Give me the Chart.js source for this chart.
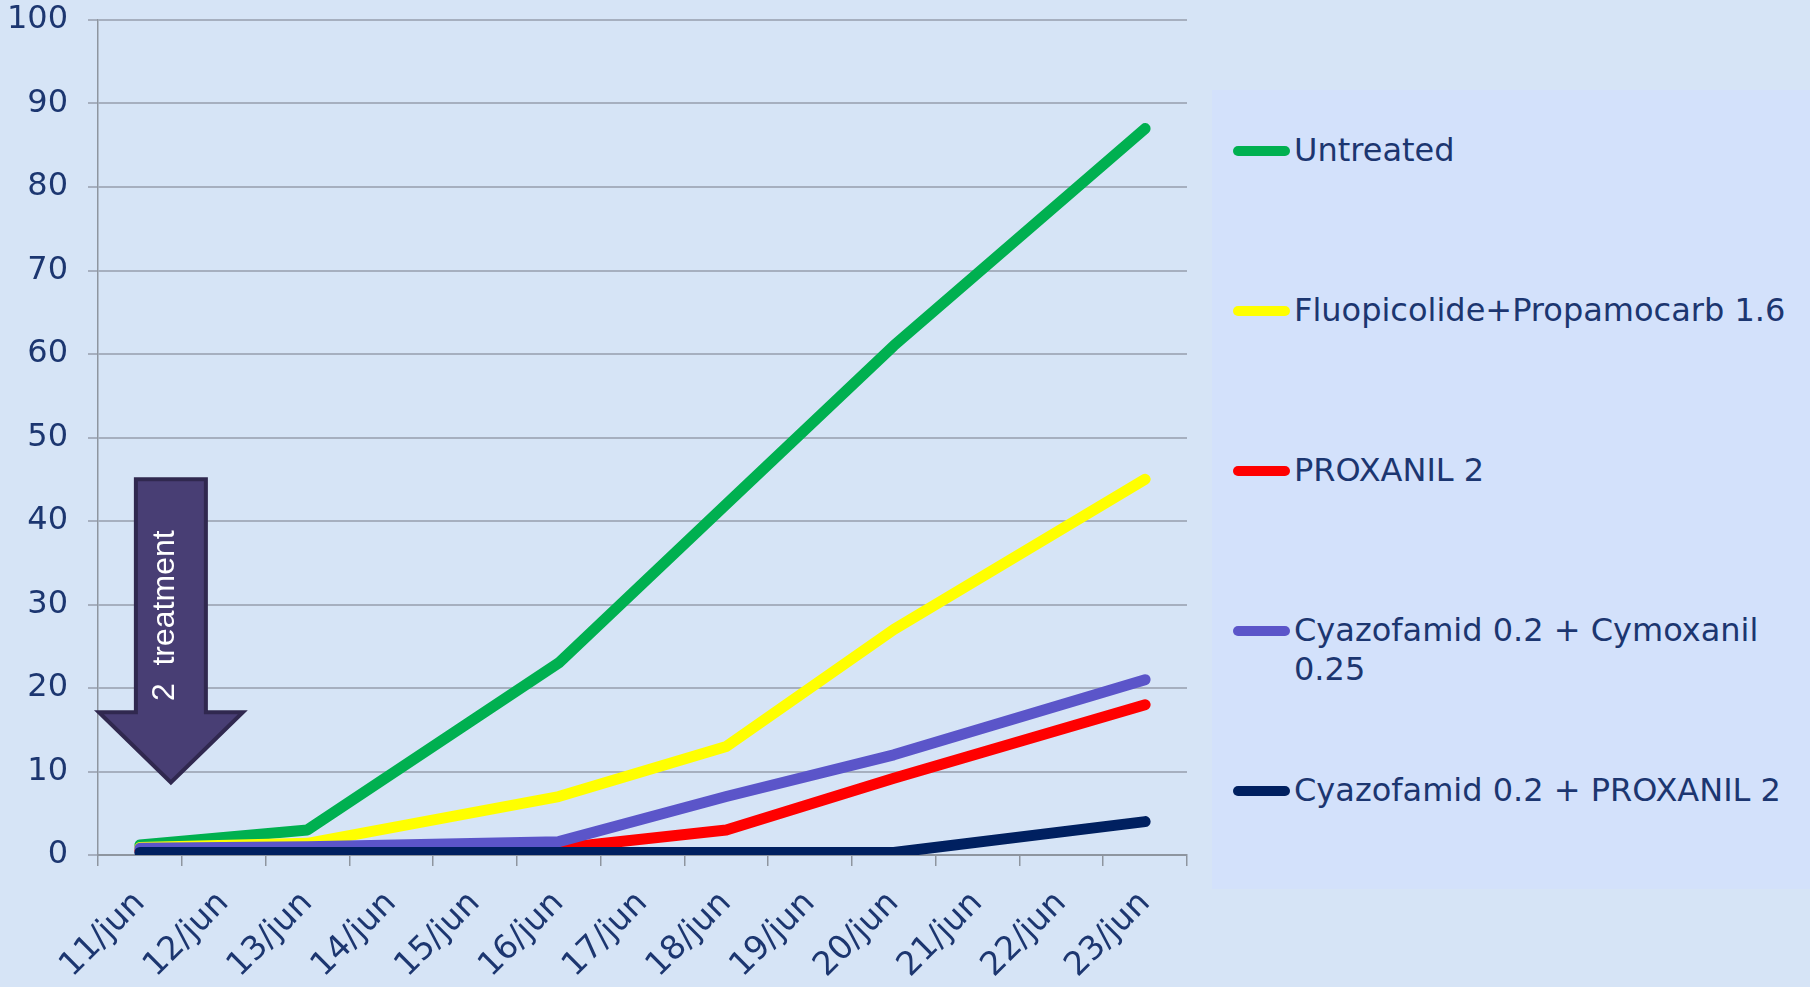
<!DOCTYPE html>
<html>
<head>
<meta charset="utf-8">
<script src="https://cdn.jsdelivr.net/npm/chart.js@4.4.1/dist/chart.umd.min.js"></script>
<style>
    body { margin: 0; background: #d6e4f6; }
    #wrap { position: relative; width: 1810px; height: 987px; }
    #legend {
        position: absolute; left: 1212px; top: 90px; width: 598px; height: 799px;
        background: #d3e1fb; font-family: 'DejaVu Sans', Verdana, sans-serif;
        font-size: 32px; color: #1c3670;
    }
    .item { position: absolute; left: 21px; display: flex; align-items: flex-start; }
    .swatch { width: 57px; height: 10px; border-radius: 5px; margin-top: 15px; margin-right: 4px; flex: none; }
    .label { width: 520px; line-height: 39px; }
</style>
</head>
<body>
<div id="wrap">
    <canvas id="mainChart"></canvas>
    <div id="legend"></div>
</div>
<script>
const days = ['11/jun', '12/jun', '13/jun', '14/jun', '15/jun', '16/jun', '17/jun',
    '18/jun', '19/jun', '20/jun', '21/jun', '22/jun', '23/jun'];

const untreated   = [1.2, null, 3,   null, null, 23,  null, 42,  null, 61,  null, null, 87];
const fluoProp    = [0.9, null, 1.4, null, null, 7,   null, 13,  null, 27,  null, null, 45];
const proxanil    = [0.5, null, 0.5, null, null, 0.8, null, 3,   null, 9.2, null, null, 18];
const cyazoCymox  = [0.8, null, 1,   null, null, 1.6, null, 7,   null, 12,  null, null, 21];
const cyazoProx   = [0.3, null, 0.3, null, null, 0.3, null, 0.3, null, 0.3, null, null, 4];

const seriesNames = ['Untreated', 'Fluopicolide+Propamocarb 1.6', 'PROXANIL 2',
    'Cyazofamid 0.2 + Cymoxanil 0.25', 'Cyazofamid 0.2 + PROXANIL 2'];
const seriesData = [untreated, fluoProp, proxanil, cyazoCymox, cyazoProx];
const seriesColors = ['#00b050', '#ffff00', '#ff0000', '#5b55c9', '#002060'];

const yTicks = [0, 10, 20, 30, 40, 50, 60, 70, 80, 90, 100];

// treatment arrow, placed in data units
const arrowIndex = 0.37;
const arrowTip = 8.7, arrowBase = 17.1, arrowTop = 45;

Chart.defaults.font.family = "'DejaVu Sans', Verdana, sans-serif";

const arrowPlugin = {
    id: 'treatmentArrow',
    afterDatasetsDraw(chart) {
        const { ctx, scales: { x, y } } = chart;
        const step = x.getPixelForValue(1) - x.getPixelForValue(0);
        const cx = x.getPixelForValue(0) + arrowIndex * step;
        const tipY = y.getPixelForValue(arrowTip);
        const baseY = y.getPixelForValue(arrowBase);
        const topY = y.getPixelForValue(arrowTop);
        const shaft = 35, head = 72;
        ctx.save();
        ctx.beginPath();
        ctx.moveTo(cx - shaft, topY);
        ctx.lineTo(cx + shaft, topY);
        ctx.lineTo(cx + shaft, baseY);
        ctx.lineTo(cx + head, baseY);
        ctx.lineTo(cx, tipY);
        ctx.lineTo(cx - head, baseY);
        ctx.lineTo(cx - shaft, baseY);
        ctx.closePath();
        ctx.fillStyle = '#483e74';
        ctx.fill();
        ctx.lineWidth = 4;
        ctx.strokeStyle = '#30284f';
        ctx.stroke();

        ctx.translate(cx - 6, (topY + baseY) / 2 + 20);
        ctx.rotate(-Math.PI / 2);
        ctx.fillStyle = '#ffffff';
        ctx.font = "32px 'Liberation Sans', Arial, sans-serif";
        ctx.textAlign = 'center';
        ctx.textBaseline = 'middle';
        ctx.fillText('2  treatment', 0, 0);
        ctx.restore();
    }
};

const ctx = document.getElementById('mainChart').getContext('2d');
const mainChart = new Chart(ctx, {
    type: 'line',
    data: {
        labels: days,
        datasets: seriesData.map((d, i) => ({
            label: seriesNames[i],
            data: d,
            borderColor: seriesColors[i],
            backgroundColor: seriesColors[i],
            borderWidth: 11,
            borderCapStyle: 'round',
            borderJoinStyle: 'round',
            pointRadius: 0,
            tension: 0,
            spanGaps: true,
            order: seriesData.length - i
        }))
    },
    options: {
        responsive: true,
        maintainAspectRatio: false,
        animation: false,
        layout: { padding: { top: 20, right: 623, left: 0, bottom: 0 } },
        plugins: {
            legend: { display: false },
            tooltip: { enabled: false }
        },
        scales: {
            x: {
                offset: true,
                grid: { offset: true, drawOnChartArea: false, drawTicks: true, tickLength: 11, color: '#8e959f', lineWidth: 1.5 },
                border: { display: true, color: '#8e959f', width: 2 },
                ticks: {
                    color: '#1c3670', font: { size: 33 }, autoSkip: false,
                    minRotation: 45, maxRotation: 45, padding: 18
                },
                afterFit(scale) { scale.height = 132; }
            },
            y: {
                min: 0, max: 100,
                afterBuildTicks(scale) { scale.ticks = yTicks.map(v => ({ value: v })); },
                grid: { color: '#a6afbf', lineWidth: 2, tickLength: 10 },
                border: { display: true, color: '#8e959f', width: 1.5 },
                ticks: { color: '#1c3670', font: { size: 32 }, padding: 20 },
                afterFit(scale) {
                    scale.width = 98;
                    scale.paddingTop = 0;
                    scale.paddingBottom = 0;
                }
            }
        }
    },
    plugins: [arrowPlugin]
});

// legend built from the series arrays
const legend = document.getElementById('legend');
seriesNames.forEach((name, i) => {
    const item = document.createElement('div');
    item.className = 'item';
    item.style.top = (41 + i * 160) + 'px';
    item.innerHTML = '<div class="swatch" style="background:' + seriesColors[i] + '"></div>' +
        '<div class="label">' + name + '</div>';
    legend.appendChild(item);
});
</script>
</body>
</html>
